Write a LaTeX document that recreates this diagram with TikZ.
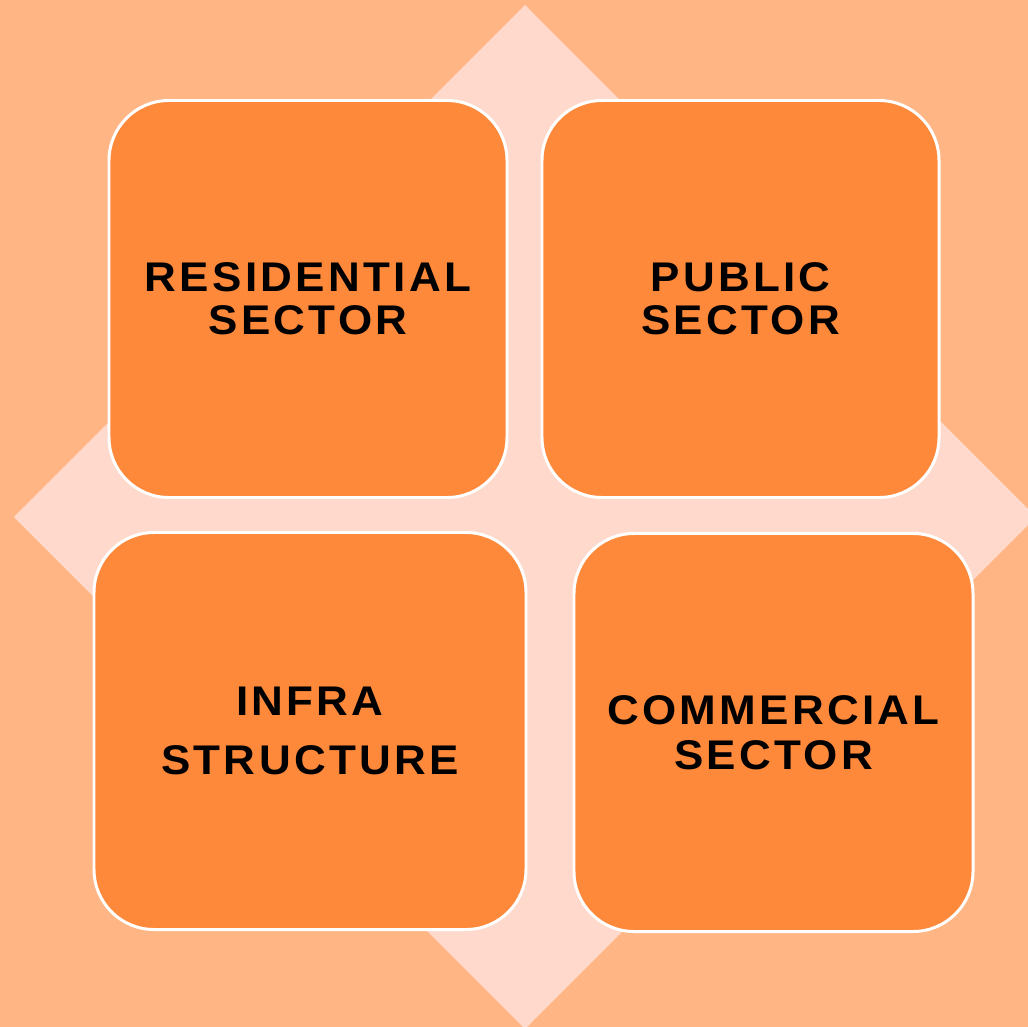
\documentclass[tikz,border=0pt]{standalone}
\usepackage{fontspec}
\newfontfamily\sectorfont{Liberation Sans}[LetterSpace=8, FakeStretch=1.06]
\usepackage{tikz}
\usetikzlibrary{positioning}
\definecolor{peach}{HTML}{FFB584}
\definecolor{blush}{HTML}{FFD9CC}
\definecolor{tangerine}{HTML}{FF893A}

\begin{document}
\begin{tikzpicture}[
    x=0.02cm, y=-0.02cm,
    sector/.style={rectangle, rounded corners=1.2cm, draw=white, line width=1.7pt, fill=tangerine, align=center, inner sep=0pt, font=\sectorfont\bfseries\fontsize{23.6pt}{24.5pt}\selectfont}
]
\useasboundingbox (0,0) rectangle (1028,1027);
\clip (0,0) rectangle (1028,1027);
\fill[peach] (0,0) rectangle (1028,1027);
\fill[blush] (525,5) -- (1036,517) -- (525,1029) -- (14,517) -- cycle;

\node[sector, minimum width=398*0.02cm, minimum height=397*0.02cm] (residential) at (308,299) {RESIDENTIAL\\SECTOR};
\node[sector, minimum width=397*0.02cm, minimum height=397*0.02cm] (public) at (740.5,299) {PUBLIC\\SECTOR};
\node[sector, minimum width=432*0.02cm, minimum height=397*0.02cm] (infra) at (310,731) {INFRA\\[9pt]STRUCTURE};
\node[sector, minimum width=399*0.02cm, minimum height=398*0.02cm] (commercial) at (773.5,732.5) {COMMERCIAL\\[1pt]SECTOR};
\end{tikzpicture}
\end{document}
